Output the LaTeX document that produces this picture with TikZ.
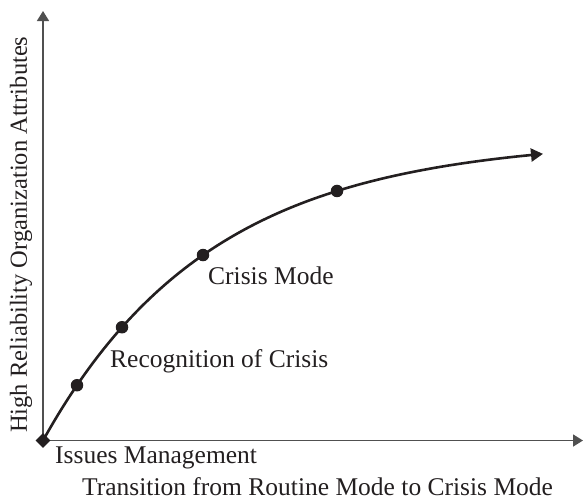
\documentclass[tikz,border=0pt]{standalone}
\usepackage{fontspec}
\setmainfont{Liberation Serif}
\usetikzlibrary{arrows.meta,shapes.geometric}
\definecolor{ink}{HTML}{231F20}
\definecolor{axisgray}{HTML}{505050}

\begin{document}
\begin{tikzpicture}[x=1pt, y=-1pt, domain=0:500,
  axis/.style={draw=axisgray, line width=1.6pt, -{Triangle[length=10pt,width=12pt]}},
  curve/.style={draw=ink, line width=2.6pt, -{Triangle[length=12pt,width=13pt]}},
  dot/.style={circle, fill=ink, inner sep=0pt, minimum size=12.5pt},
  lbl/.style={font=\fontsize{25.5}{30}\selectfont, text=ink, inner sep=0pt, anchor=base west}]
\useasboundingbox (0,0) rectangle (583,499);
\coordinate (o) at (43,440.5);
\coordinate (ytip) at (43,11);
\coordinate (xtip) at (583,440.5);
\draw[axis] (o) -- (ytip);
\draw[axis] (o) -- (xtip);
\draw[curve] plot[samples=100, smooth] ({43+\x},{440.5-302*(1-exp(-\x/168))});
\foreach \n/\x in {1/34, 2/79, 3/160, 4/294}{
  \node[dot] (p\n) at ({43+\x},{440.5-302*(1-exp(-\x/168))}) {};
}
\node[diamond, fill=ink, inner sep=0pt, minimum size=15pt] (start) at (o) {};
\node[lbl] (issues) at (55,463.5) {Issues Management};
\node[lbl] (recog) at (110,367) {Recognition of Crisis};
\node[lbl] (crisis) at (208,284.5) {Crisis Mode};
\node[lbl] (xlabel) at (82,495) {Transition from Routine Mode to Crisis Mode};
\node[lbl, rotate=90, font=\fontsize{24.5}{30}\selectfont] (ylabel) at (27,433) {High Reliability Organization Attributes};
\end{tikzpicture}
\end{document}
